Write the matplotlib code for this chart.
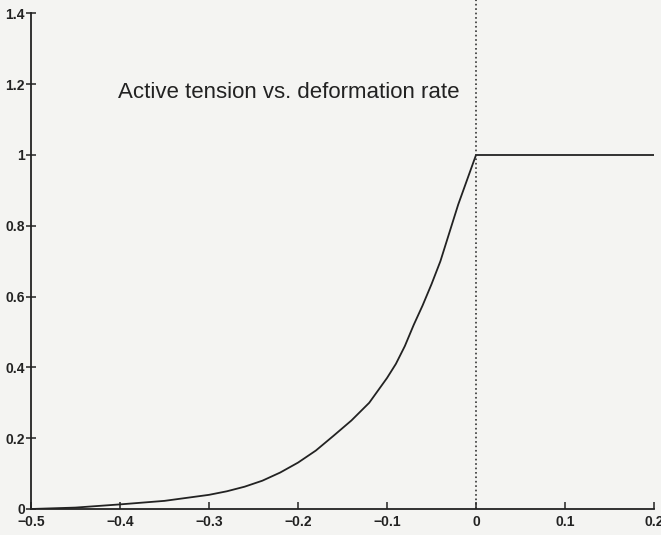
#!/usr/bin/env python3
"""Active tension as a function of deformation rate."""

import matplotlib
matplotlib.use("Agg")
import matplotlib.pyplot as plt

# deformation rate (negative = shortening) and normalised active tension
rate = [-0.5, -0.45, -0.4, -0.35, -0.3, -0.28, -0.26, -0.24, -0.22, -0.2,
        -0.18, -0.16, -0.14, -0.12, -0.11, -0.1, -0.09, -0.08, -0.07, -0.06,
        -0.05, -0.04, -0.03, -0.02, -0.01, 0.0, 0.2]
tension = [0.0, 0.004, 0.013, 0.023, 0.04, 0.05, 0.063, 0.08, 0.103, 0.131,
           0.165, 0.207, 0.25, 0.30, 0.335, 0.37, 0.41, 0.46, 0.52, 0.575,
           0.635, 0.70, 0.78, 0.86, 0.93, 1.0, 1.0]

x_ticks = [-0.5, -0.4, -0.3, -0.2, -0.1, 0.0, 0.1, 0.2]
x_labels = ["\u22120.5", "\u22120.4", "\u22120.3", "\u22120.2", "\u22120.1",
            "0", "0.1", "0.2"]
y_ticks = [0.0, 0.2, 0.4, 0.6, 0.8, 1.0, 1.2, 1.4]
y_labels = ["0", "0.2", "0.4", "0.6", "0.8", "1", "1.2", "1.4"]

W, H = 661, 535
BG = "#f4f4f2"
INK = "#222222"

fig = plt.figure(figsize=(W / 100, H / 100), dpi=100, facecolor=BG)
ax = fig.add_axes([31 / W, 26 / H, 623 / W, 495.6 / H], facecolor=BG)

ax.plot(rate, tension, color=INK, linewidth=1.3, solid_joinstyle="round")
ax.plot([0, 0], [0, 1.5], color="#333333", linestyle=":", linewidth=1.2,
        clip_on=False)

ax.set_xlim(-0.5, 0.2)
ax.set_ylim(0, 1.4)

ax.spines["top"].set_visible(False)
ax.spines["right"].set_visible(False)
for side in ("left", "bottom"):
    ax.spines[side].set_color(INK)
    ax.spines[side].set_linewidth(1.3)

ax.set_xticks(x_ticks)
ax.set_xticklabels(x_labels)
ax.set_yticks(y_ticks)
ax.set_yticklabels(y_labels)
ax.tick_params(axis="x", direction="in", length=5, width=1.1, pad=4,
               colors=INK)
ax.tick_params(axis="y", direction="inout", length=7, width=1.1, pad=1,
               colors=INK)
for lab in ax.get_xticklabels() + ax.get_yticklabels():
    lab.set_fontfamily("Liberation Sans")
    lab.set_fontweight("bold")
    lab.set_fontsize(10)

fig.text(118 / W, (H - 98) / H, "Active tension vs. deformation rate",
         fontfamily="Liberation Sans", fontsize=16, color=INK,
         ha="left", va="baseline")

fig.savefig("out.png", dpi=100, facecolor=BG)
